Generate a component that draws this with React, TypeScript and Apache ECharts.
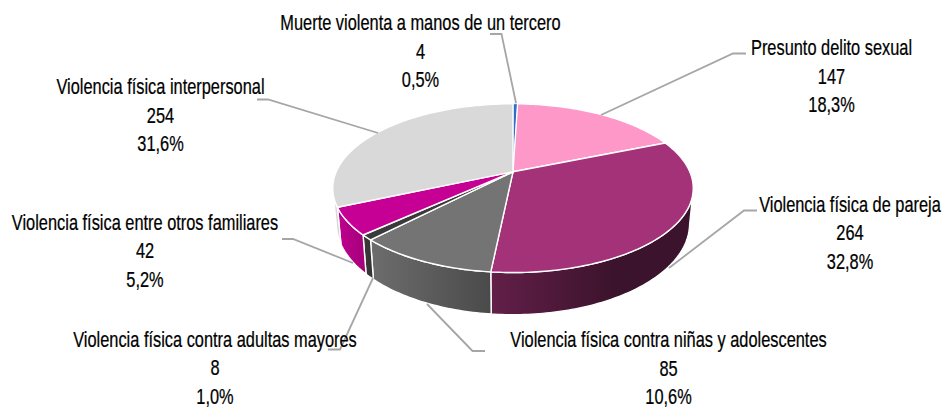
import React, { useEffect, useRef } from "react";
import * as echarts from "echarts";

const categories = [
  "Muerte violenta a manos de un tercero",
  "Presunto delito sexual",
  "Violencia física de pareja",
  "Violencia física contra niñas y adolescentes",
  "Violencia física contra adultas mayores",
  "Violencia física entre otros familiares",
  "Violencia física interpersonal",
];
const values = [4, 147, 264, 85, 8, 42, 254];
const percents = ["0,5%", "18,3%", "32,8%", "10,6%", "1,0%", "5,2%", "31,6%"];

const topColors = ["#2f6fc4", "#fd98c8", "#a43278", "#747474", "#3a3a3a", "#c60094", "#d9d9d9"];
const wallStops: string[][] = [
  ["#2f6fc4", "#2f6fc4"],
  ["#fd98c8", "#fd98c8"],
  ["#631f49", "#3c132c"],
  ["#6d6d6d", "#4a4a4a"],
  ["#3a3a3a", "#333333"],
  ["#c0008f", "#a3007a"],
  ["#dedede", "#d4d4d4"],
];

const labelCenters = [
  [420.5, 51], [831.5, 76], [850, 232.5], [668.5, 367.6], [215, 367.5], [145, 250.5], [160.5, 115],
];
const leaders = [
  [[490, 34], [501.5, 34], [516, 103]],
  [[746, 53.5], [733, 53.5], [601, 115]],
  [[757, 210.5], [744, 210.5], [669, 268]],
  [[485, 351], [472.5, 351], [427, 304]],
  [[328, 349.5], [340, 349.5], [373, 278]],
  [[282, 239], [293, 239], [353, 263]],
  [[257, 99.5], [268, 99.5], [378, 133]],
];

const HUB_X = 513, HUB_Y = 171.8;
const D = 176.8, A = 81.2, C = -0.194;
const DEPTH_K = 34, BOTTOM_SCALE = 0.98;
const WALL_FROM = 102, WALL_TO = 256;
const FONT = '"Liberation Sans", sans-serif';
const FONT_SIZE = 22, LINE_H = 28.5, TEXT_SCALE = 0.745;

const total = values.reduce((s, v) => s + v, 0);
const cumulative = values.map((_, i) => values.slice(0, i).reduce((s, v) => s + v, 0));

function rim(deg: number): number[] {
  const t = (deg * Math.PI) / 180;
  const u = Math.sin(t), v = -Math.cos(t);
  const den = 1 + C * v;
  return [HUB_X + (D * u) / den, HUB_Y + (A * v) / den, den];
}
function rimBottom(deg: number): number[] {
  const [x, y, den] = rim(deg);
  return [HUB_X + (x - HUB_X) * BOTTOM_SCALE, y + DEPTH_K / den];
}
function steps(a: number, b: number): number[] {
  const out: number[] = [];
  for (let d = a; d < b; d += 1) out.push(d);
  out.push(b);
  return out;
}

function renderSlice(params: any, api: any) {
  const i = params.dataIndex;
  const a0 = (cumulative[i] / total) * 360;
  const a1 = a0 + (api.value(0) / total) * 360;
  const children: any[] = [];
  const w0 = Math.max(a0, WALL_FROM), w1 = Math.min(a1, WALL_TO);
  if (w1 > w0) {
    const ang = steps(w0, w1);
    const pts = [...ang.map((d) => rim(d).slice(0, 2)), ...ang.slice().reverse().map((d) => rimBottom(d))];
    const xs = pts.map((p) => p[0]);
    const right = w0 < 180;
    const xMin = Math.min(...xs), xMax = Math.max(...xs);
    children.push({
      type: "polygon",
      shape: { points: pts },
      style: {
        fill: new echarts.graphic.LinearGradient(
          right ? xMin : xMax, 0, right ? xMin + (xMax - xMin) * 0.6 : xMin, 0,
          [{ offset: 0, color: wallStops[i][right ? 0 : 1] }, { offset: 1, color: wallStops[i][right ? 1 : 0] }],
          true
        ),
        stroke: "#ffffff",
        lineWidth: 1.4,
        lineJoin: "round",
      },
    });
  }
  const top = [[HUB_X, HUB_Y], ...steps(a0, a1).map((d) => rim(d).slice(0, 2))];
  children.push({
    type: "polygon",
    shape: { points: top },
    style: { fill: topColors[i], stroke: "#ffffff", lineWidth: i === 0 ? 0.7 : 1.4, lineJoin: "round" },
  });
  return { type: "group", children };
}

function renderLabel(params: any, api: any) {
  const i = params.dataIndex;
  return {
    type: "group",
    children: [
      {
        type: "polyline",
        shape: { points: leaders[i] },
        style: { fill: "none", stroke: "#a6a6a6", lineWidth: 1.8 },
      },
      {
        type: "text",
        x: labelCenters[i][0],
        y: labelCenters[i][1],
        scaleX: TEXT_SCALE,
        style: {
          text: `${categories[i]}\n${api.value(0)}\n${percents[i]}`,
          x: 0,
          y: 0,
          align: "center",
          verticalAlign: "middle",
          fontFamily: FONT,
          fontSize: FONT_SIZE,
          lineHeight: LINE_H,
          fill: "#000000",
          stroke: "#000000",
          lineWidth: 0.25,
        },
      },
    ],
  };
}

export default function App() {
  const ref = useRef<HTMLDivElement>(null);
  useEffect(() => {
    const chart = echarts.init(ref.current!, null, { renderer: "svg" });
    const data = values.map((v, i) => ({ name: categories[i], value: [v] }));
    chart.setOption({
      animation: false,
      backgroundColor: "#ffffff",
      series: [
        { type: "custom", coordinateSystem: "none", renderItem: renderSlice, data, silent: true, z: 1 },
        { type: "custom", coordinateSystem: "none", renderItem: renderLabel, data, silent: true, z: 2 },
      ],
    });
    return () => chart.dispose();
  }, []);
  return <div ref={ref} style={{ position: "fixed", left: 0, top: 0, width: 943, height: 408 }} />;
}
